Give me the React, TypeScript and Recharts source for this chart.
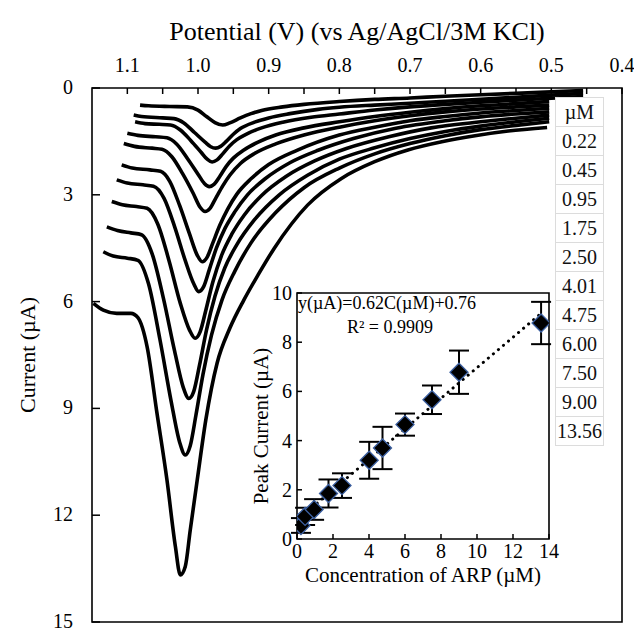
import React from 'react';
import { LineChart, Line, XAxis, YAxis, ReferenceArea, ComposedChart, Scatter, ErrorBar } from 'recharts';

// ---------- main chart: differential pulse voltammograms ----------
const potentialTicks = [1.1, 1.05, 1.0, 0.95, 0.9, 0.85, 0.8, 0.75, 0.7, 0.65, 0.6, 0.55, 0.5, 0.45, 0.4];
const currentTicks = [0, 3, 6, 9, 12, 15];

// [potential V, current µA]
const dpv022: [number, number][] = [[1.082,0.48],[1.07,0.50],[1.04,0.52],[1.015,0.53],[1.0,0.62],[0.988,0.80],[0.976,0.97],[0.965,1.04],[0.955,0.98],[0.94,0.84],[0.925,0.72],[0.91,0.63],[0.88,0.53],[0.85,0.46],[0.80,0.38],[0.75,0.32],[0.70,0.28],[0.65,0.23],[0.60,0.19],[0.55,0.15],[0.50,0.11],[0.455,0.07]];
const dpv045: [number, number][] = [[1.091,0.76],[1.08,0.80],[1.05,0.84],[1.034,0.86],[1.02,0.98],[1.005,1.25],[0.99,1.52],[0.982,1.65],[0.975,1.69],[0.968,1.64],[0.96,1.50],[0.95,1.30],[0.94,1.14],[0.92,0.96],[0.90,0.84],[0.87,0.72],[0.83,0.60],[0.80,0.54],[0.75,0.48],[0.70,0.43],[0.65,0.37],[0.60,0.32],[0.55,0.26],[0.50,0.20],[0.455,0.15]];
const dpv095: [number, number][] = [[1.089,0.95],[1.075,1.0],[1.055,1.02],[1.039,1.04],[1.025,1.18],[1.01,1.48],[0.995,1.82],[0.987,2.0],[0.98,2.08],[0.973,2.02],[0.965,1.85],[0.955,1.62],[0.945,1.45],[0.93,1.28],[0.91,1.12],[0.88,0.96],[0.84,0.82],[0.80,0.73],[0.75,0.62],[0.70,0.53],[0.65,0.46],[0.60,0.40],[0.55,0.34],[0.50,0.29],[0.455,0.24]];
const dpv175: [number, number][] = [[1.10,1.27],[1.085,1.33],[1.06,1.37],[1.044,1.40],[1.03,1.58],[1.015,1.98],[1.0,2.42],[0.991,2.68],[0.984,2.77],[0.977,2.70],[0.969,2.48],[0.96,2.20],[0.95,1.97],[0.935,1.74],[0.915,1.52],[0.89,1.32],[0.85,1.12],[0.80,0.95],[0.75,0.80],[0.70,0.68],[0.65,0.58],[0.60,0.50],[0.55,0.44],[0.503,0.38]];
const dpv250: [number, number][] = [[1.105,1.56],[1.09,1.64],[1.065,1.69],[1.051,1.72],[1.037,1.93],[1.022,2.40],[1.007,2.95],[0.997,3.35],[0.99,3.47],[0.983,3.38],[0.975,3.10],[0.965,2.75],[0.955,2.45],[0.94,2.12],[0.92,1.84],[0.89,1.57],[0.85,1.32],[0.80,1.10],[0.75,0.92],[0.70,0.78],[0.65,0.67],[0.60,0.59],[0.55,0.53],[0.503,0.48]];
const dpv401: [number, number][] = [[1.108,2.16],[1.093,2.25],[1.068,2.30],[1.053,2.34],[1.04,2.62],[1.026,3.30],[1.012,4.10],[1.001,4.70],[0.994,4.88],[0.987,4.75],[0.979,4.35],[0.969,3.85],[0.958,3.40],[0.945,2.98],[0.925,2.55],[0.90,2.15],[0.86,1.75],[0.80,1.32],[0.75,1.10],[0.70,0.92],[0.65,0.80],[0.60,0.70],[0.55,0.63],[0.503,0.57]];
const dpv475: [number, number][] = [[1.115,2.58],[1.10,2.67],[1.078,2.72],[1.063,2.76],[1.048,3.10],[1.033,3.90],[1.018,4.85],[1.006,5.50],[0.999,5.72],[0.992,5.58],[0.984,5.10],[0.974,4.50],[0.962,3.95],[0.948,3.48],[0.93,3.00],[0.905,2.55],[0.87,2.10],[0.83,1.75],[0.78,1.42],[0.72,1.13],[0.65,0.92],[0.60,0.81],[0.55,0.73],[0.503,0.67]];
const dpv600: [number, number][] = [[1.122,3.19],[1.107,3.28],[1.087,3.33],[1.072,3.38],[1.057,3.82],[1.041,4.85],[1.025,6.05],[1.012,6.80],[1.004,7.03],[0.997,6.85],[0.989,6.25],[0.979,5.45],[0.967,4.72],[0.952,4.10],[0.935,3.58],[0.91,3.02],[0.875,2.48],[0.835,2.05],[0.79,1.70],[0.73,1.37],[0.67,1.12],[0.60,0.95],[0.55,0.85],[0.503,0.76]];
const dpv750: [number, number][] = [[1.129,3.90],[1.114,4.0],[1.095,4.07],[1.08,4.12],[1.065,4.65],[1.049,5.90],[1.033,7.40],[1.021,8.40],[1.013,8.72],[1.006,8.52],[0.998,7.80],[0.988,6.80],[0.976,5.85],[0.962,5.05],[0.945,4.40],[0.92,3.70],[0.885,3.00],[0.845,2.45],[0.80,2.0],[0.75,1.68],[0.70,1.42],[0.65,1.22],[0.60,1.07],[0.55,0.95],[0.503,0.85]];
const dpv900: [number, number][] = [[1.134,4.60],[1.12,4.72],[1.10,4.78],[1.085,4.84],[1.07,5.50],[1.054,7.05],[1.038,8.80],[1.026,9.95],[1.018,10.31],[1.011,10.05],[1.003,9.20],[0.993,8.05],[0.981,6.95],[0.966,5.95],[0.948,5.15],[0.925,4.35],[0.89,3.50],[0.85,2.80],[0.80,2.25],[0.75,1.85],[0.70,1.56],[0.65,1.34],[0.60,1.17],[0.55,1.05],[0.503,0.95]];
const dpv1356: [number, number][] = [[1.148,6.05],[1.134,6.24],[1.115,6.33],[1.095,6.33],[1.085,6.45],[1.072,7.27],[1.058,9.14],[1.044,11.0],[1.032,12.88],[1.025,13.68],[1.018,13.44],[1.011,12.42],[1.001,11.0],[0.989,9.33],[0.973,7.73],[0.955,6.75],[0.935,5.95],[0.915,5.25],[0.892,4.50],[0.845,3.29],[0.797,2.54],[0.75,2.07],[0.703,1.74],[0.655,1.51],[0.608,1.34],[0.561,1.21],[0.506,1.11]];

const voltammograms = [dpv022, dpv045, dpv095, dpv175, dpv250, dpv401, dpv475, dpv600, dpv750, dpv900, dpv1356];

// ---------- legend / inset calibration ----------
const concentrationLabels = ['0.22', '0.45', '0.95', '1.75', '2.50', '4.01', '4.75', '6.00', '7.50', '9.00', '13.56'];
const concentrations = [0.22, 0.45, 0.95, 1.75, 2.50, 4.01, 4.75, 6.00, 7.50, 9.00, 13.56];
const peakCurrents = [0.55, 0.92, 1.2, 1.85, 2.17, 3.2, 3.7, 4.65, 5.66, 6.78, 8.78];
const peakErrors = [0.3, 0.35, 0.42, 0.57, 0.5, 0.75, 0.86, 0.45, 0.58, 0.88, 0.86];
const fitConc = [0, 13.56];
const fitCurrent = [0.76, 9.17];
const insetXTicks = [0, 2, 4, 6, 8, 10, 12, 14];
const insetYTicks = [0, 2, 4, 6, 8, 10];

const SERIF = "'Liberation Serif', 'Times New Roman', serif";

const curveData = voltammograms.map((c) => c.map(([v, i]) => ({ v, i })));
const pointData = concentrations.map((c, k) => ({ c, p: peakCurrents[k], e: peakErrors[k] }));
const fitData = fitConc.map((c, k) => ({ c, p: fitCurrent[k] }));

const TopTick = (props: any) => {
  const { x, y, payload } = props;
  const v = payload.value as number;
  const major = Math.abs(v * 10 - Math.round(v * 10)) < 1e-6;
  return (
    <g>
      <line x1={x} x2={x} y1={y + 16} y2={y + 22} stroke="#000" strokeWidth={1.5} />
      {major && (
        <text x={x} y={y} textAnchor="middle" fontSize={20} fontFamily={SERIF} fill="#000">
          {v.toFixed(1)}
        </text>
      )}
    </g>
  );
};

const LeftTick = (props: any) => {
  const { x, y, payload } = props;
  return (
    <g>
      <line x1={x + 19} x2={x + 27} y1={y} y2={y} stroke="#000" strokeWidth={1.5} />
      <text x={x} y={y + 6} textAnchor="end" fontSize={20} fontFamily={SERIF} fill="#000">
        {payload.value}
      </text>
    </g>
  );
};

const InsetLeftTick = (props: any) => {
  const { x, y, payload } = props;
  return (
    <g>
      <line x1={x + 5} x2={x + 10} y1={y} y2={y} stroke="#000" strokeWidth={1.5} />
      <text x={x} y={y + 7} textAnchor="end" fontSize={20} fontFamily={SERIF} fill="#000">
        {payload.value}
      </text>
    </g>
  );
};

const InsetBottomTick = (props: any) => {
  const { x, y, payload } = props;
  return (
    <g>
      <line x1={x} x2={x} y1={y - 7} y2={y - 12} stroke="#000" strokeWidth={1.5} />
      <text x={x} y={y + 12} textAnchor="middle" fontSize={20} fontFamily={SERIF} fill="#000">
        {payload.value}
      </text>
    </g>
  );
};

const Diamond = (props: any) => {
  const { cx, cy } = props;
  const r = 9;
  return (
    <polygon
      points={`${cx},${cy - r} ${cx + r},${cy} ${cx},${cy + r} ${cx - r},${cy}`}
      fill="#000"
      stroke="#3b5fa0"
      strokeWidth={1.3}
    />
  );
};

export default function App() {
  return (
    <div style={{ position: 'relative', width: 634, height: 631, overflow: 'hidden', background: '#fff', fontFamily: SERIF }}>
      <style>{`html,body{margin:0;padding:0;overflow:hidden}.recharts-surface{overflow:visible}.recharts-wrapper{overflow:visible}`}</style>
      <div style={{ position: 'absolute', left: 8, top: 8, width: 626, height: 623 }}>
        <div style={{ position: 'absolute', left: 0, top: 0 }}>
          <LineChart width={626} height={623} margin={{ top: 0, right: 12, bottom: 9, left: 0 }}>
            <XAxis
              type="number"
              dataKey="v"
              domain={[0.4, 1.15]}
              reversed
              orientation="top"
              ticks={potentialTicks}
              interval={0}
              tickSize={0}
              tickMargin={16}
              axisLine={false}
              tickLine={false}
              height={80}
              tick={TopTick}
              allowDataOverflow
            />
            <YAxis
              type="number"
              domain={[0, 15]}
              reversed
              ticks={currentTicks}
              interval={0}
              tickSize={0}
              tickMargin={19}
              axisLine={false}
              tickLine={false}
              width={84}
              tick={LeftTick}
              allowDataOverflow
            />
            <ReferenceArea x1={0.4} x2={1.15} y1={0} y2={15} fill="none" stroke="#000" strokeWidth={1.6} ifOverflow="visible" />
            {curveData.map((d, k) => (
              <Line
                key={k}
                data={d}
                dataKey="i"
                type="monotone"
                stroke="#000"
                strokeWidth={3.6}
                dot={false}
                activeDot={false}
                isAnimationActive={false}
              />
            ))}
          </LineChart>
        </div>

        <table
          style={{
            position: 'absolute',
            left: 547,
            top: 89,
            width: 49,
            borderCollapse: 'collapse',
            background: '#fff',
            fontFamily: SERIF,
            fontSize: 20,
            color: '#111',
          }}
        >
          <tbody>
            {['µM', ...concentrationLabels].map((t, k) => (
              <tr key={k} style={{ height: 29 }}>
                <td style={{ border: '1px solid #dcdcdc', textAlign: 'center', padding: 0, lineHeight: '27px' }}>{t}</td>
              </tr>
            ))}
          </tbody>
        </table>

        <div style={{ position: 'absolute', left: 239, top: 280 }}>
          <ComposedChart width={310} height={310} margin={{ top: 5, right: 8, bottom: 0, left: 0 }}>
            <XAxis
              type="number"
              dataKey="c"
              domain={[0, 14]}
              ticks={insetXTicks}
              interval={0}
              tickSize={0}
              tickMargin={7}
              axisLine={false}
              tickLine={false}
              height={59}
              tick={InsetBottomTick}
              allowDataOverflow
            />
            <YAxis
              type="number"
              domain={[0, 10]}
              ticks={insetYTicks}
              interval={0}
              tickSize={0}
              tickMargin={5}
              axisLine={false}
              tickLine={false}
              width={50}
              tick={InsetLeftTick}
              allowDataOverflow
            />
            <ReferenceArea x1={0} x2={14} y1={0} y2={10} fill="none" stroke="#000" strokeWidth={1.6} ifOverflow="visible" />
            <Line
              data={fitData}
              dataKey="p"
              type="linear"
              stroke="#000"
              strokeWidth={3}
              strokeDasharray="0.1 6.5"
              strokeLinecap="round"
              dot={false}
              activeDot={false}
              isAnimationActive={false}
            />
            <Scatter data={pointData} dataKey="p" shape={Diamond} isAnimationActive={false}>
              <ErrorBar dataKey="e" direction="y" width={10} stroke="#000" strokeWidth={2} />
            </Scatter>
          </ComposedChart>
        </div>

        <svg
          width={626}
          height={623}
          style={{ position: 'absolute', left: 0, top: 0, overflow: 'visible', pointerEvents: 'none' }}
        >
          <text x={349} y={32} textAnchor="middle" fontSize={26} fontFamily={SERIF} fill="#000">
            Potential (V) (vs Ag/AgCl/3M KCl)
          </text>
          <text transform="translate(27,347) rotate(-90)" textAnchor="middle" fontSize={22} fontFamily={SERIF} fill="#000">
            Current (µA)
          </text>
          <text transform="translate(260,418) rotate(-90)" textAnchor="middle" fontSize={21} fontFamily={SERIF} fill="#000">
            Peak Current (µA)
          </text>
          <text x={415} y={574} textAnchor="middle" fontSize={21} fontFamily={SERIF} fill="#000">
            Concentration of ARP (µM)
          </text>
          <text x={290} y={301} fontSize={18} fontFamily={SERIF} fill="#000">
            y(µA)=0.62C(µM)+0.76
          </text>
          <text x={382} y={325} textAnchor="middle" fontSize={18} fontFamily={SERIF} fill="#000">
            R² = 0.9909
          </text>
        </svg>
      </div>
    </div>
  );
}
